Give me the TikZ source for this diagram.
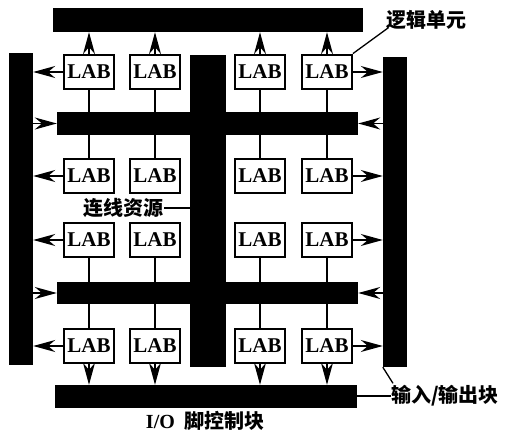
\documentclass[tikz,border=0pt]{standalone}
\usepackage{fontspec}
\setmainfont{Liberation Serif}
\newfontfamily\cjk{Noto Sans CJK SC}
\usetikzlibrary{arrows.meta,positioning,calc}
\tikzset{
  bar/.style={fill=black,draw=none,inner sep=0pt,rectangle},
  lab/.style={draw,line width=2.4pt,minimum width=49.5pt,minimum height=34.5pt,inner sep=0pt,font=\fontsize{21}{24}\selectfont\bfseries},
  arr/.style={line width=1.3pt,arrows={-Stealth[length=22pt,width=12pt]}},
  wire/.style={line width=1.3pt},
  lbl/.style={inner sep=0pt,font=\fontsize{20}{24}\selectfont\cjk\bfseries}
}
\begin{document}
\begin{tikzpicture}[x=1pt,y=-1pt]
 \useasboundingbox (0,0) rectangle (508,435);
 % routing bars
 \node[bar,minimum width=310pt,minimum height=24pt] (top) at (208,20) {};
 \node[bar,minimum width=302pt,minimum height=23pt] (bot) at (206,396.5) {};
 \node[bar,minimum width=301pt,minimum height=23pt] (mid1) at (207.5,123.5) {};
 \node[bar,minimum width=301pt,minimum height=22pt] (mid2) at (207.5,293) {};
 \node[bar,minimum width=24pt,minimum height=312pt] (lbar) at (21,209) {};
 \node[bar,minimum width=24pt,minimum height=310pt] (rbar) at (395,212) {};
 \node[bar,minimum width=36pt,minimum height=312pt] (cbar) at (208,211) {};
 % logic array blocks
 \foreach \r/\y in {1/72,2/176,3/240,4/346}
  \foreach \c/\x in {1/89,2/155,3/260,4/327}
   \node[lab,fill=white] (lab\r\c) at (\x,\y) {LAB};
 % vertical links
 \foreach \c in {1,2,3,4}{
  \draw[arr] (lab1\c.north) -- (lab1\c.north |- top.south);
  \draw[wire] (lab1\c.south) -- (lab1\c.south |- mid1.north);
  \draw[wire] (lab2\c.north) -- (lab2\c.north |- mid1.south);
  \draw[wire] (lab3\c.south) -- (lab3\c.south |- mid2.north);
  \draw[wire] (lab4\c.north) -- (lab4\c.north |- mid2.south);
  \draw[arr] (lab4\c.south) -- (lab4\c.south |- bot.north);
 }
 % side links
 \foreach \r in {1,2,3,4}{
  \draw[arr] (lab\r1.west) -- (lab\r1.west -| lbar.east);
  \draw[arr] (lab\r4.east) -- (lab\r4.east -| rbar.west);
 }
 \draw[arr] (lbar.east |- mid1) -- (mid1.west);
 \draw[arr] (lbar.east |- mid2) -- (mid2.west);
 \draw[arr] (rbar.west |- mid1) -- (mid1.east);
 \draw[arr] (rbar.west |- mid2) -- (mid2.east);
 % labels
 \node[lbl,anchor=west] (logic) at (386,20) {逻辑单元};
 \draw[wire] (lab14.north east) -- ([shift={(2,8)}]logic.west);
 \node[lbl,anchor=east] (routing) at (164,208) {连线资源};
 \draw[wire] (routing.east) -- (routing.east -| cbar.west);
 \node[lbl,anchor=west] (io) at (391,396) {输入/输出块};
 \draw[wire] (bot.east |- io) -- (io.west);
 \draw[wire] (rbar.south west) -- ([shift={(2,-2)}]io.north west);
 \node[lbl] (pins) at (205,421) {{\rmfamily\bfseries I/O}\ \ 脚控制块};
\end{tikzpicture}
\end{document}
